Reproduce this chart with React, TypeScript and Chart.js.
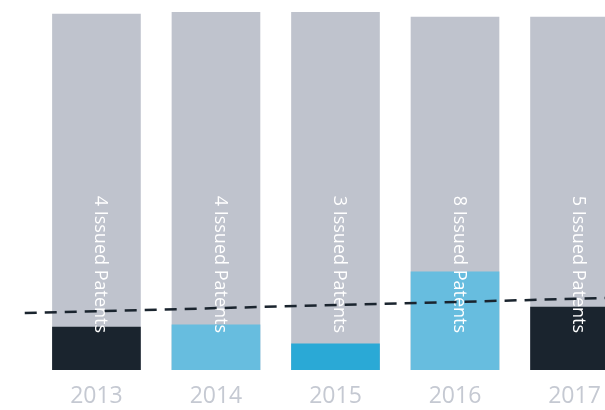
import React, { useEffect, useRef } from "react";
import { Chart, registerables } from "chart.js";

Chart.register(...registerables);

const years = [2013, 2014, 2015, 2016, 2017];
const patentCounts = [4, 4, 3, 8, 5];
const backgroundValues = [99.4, 100, 100, 98.6, 98.6];
const barValues = [12.0, 12.6, 7.3, 27.4, 17.6];
const barColors = ["#1a242e", "#67bddf", "#2aa9d6", "#67bddf", "#1a242e"];
const trendX = [2012.4, 2017.26];
const trendY = [15.9, 20.1];
const labelSuffix = " Issued Patents";

const GRAY = "#bfc3cd";
const DARK = "#1a242e";

export default function App() {
  const ref = useRef<HTMLCanvasElement | null>(null);

  useEffect(() => {
    const canvas = ref.current;
    if (!canvas) return;

    const labelPlugin = {
      id: "barLabels",
      afterDatasetDraw(chart: any, args: any) {
        if (args.index !== 1) return;
        const meta = chart.getDatasetMeta(0);
        const ctx = chart.ctx;
        const yScale = chart.scales.y;
        ctx.save();
        ctx.fillStyle = "#ffffff";
        ctx.font = "18px 'Open Sans'";
        ctx.textAlign = "center";
        ctx.textBaseline = "middle";
        meta.data.forEach((bar: any, i: number) => {
          ctx.save();
          ctx.translate(bar.x + 4, yScale.getPixelForValue(29.5));
          ctx.rotate(Math.PI / 2);
          ctx.fillText(patentCounts[i] + labelSuffix, 0, 0);
          ctx.restore();
        });
        ctx.restore();
      },
    };

    const chart = new Chart(canvas, {
      type: "bar",
      data: {
        datasets: [
          {
            type: "bar",
            data: years.map((y, i) => ({ x: y, y: backgroundValues[i] })),
            backgroundColor: GRAY,
            barThickness: 88,
            grouped: false,
            order: 2,
          } as any,
          {
            type: "bar",
            data: years.map((y, i) => ({ x: y, y: barValues[i] })),
            backgroundColor: barColors,
            barThickness: 88,
            grouped: false,
            order: 1,
          } as any,
          {
            type: "line",
            data: trendX.map((x, i) => ({ x, y: trendY[i] })),
            borderColor: DARK,
            borderWidth: 2.5,
            borderDash: [12, 8],
            pointRadius: 0,
            fill: false,
            order: 0,
          } as any,
        ],
      },
      options: {
        animation: false,
        responsive: false,
        events: [],
        layout: { padding: { top: 12, left: 0, right: 0, bottom: 0 } },
        plugins: { legend: { display: false }, tooltip: { enabled: false } },
        scales: {
          x: {
            type: "linear",
            min: 2012.193,
            max: 2017.255,
            offset: false,
            grid: { display: false, drawTicks: false },
            border: { display: false },
            ticks: {
              stepSize: 1,
              includeBounds: false,
              autoSkip: false,
              maxRotation: 0,
              padding: 13,
              color: "#c5c9d2",
              font: { family: "'Open Sans'", size: 23 },
              callback: (v: any) => (Number.isInteger(v) ? String(v) : ""),
            },
            afterFit: (scale: any) => {
              scale.height = 40;
              scale.paddingLeft = 0;
              scale.paddingRight = 0;
            },
          },
          y: {
            display: false,
            min: 0,
            max: 100,
          },
        },
      },
      plugins: [labelPlugin],
    } as any);

    return () => chart.destroy();
  }, []);

  return (
    <div style={{ position: "fixed", left: 0, top: 0, width: 605, height: 410, background: "#fff" }}>
      <canvas ref={ref} width={605} height={410} style={{ display: "block" }} />
    </div>
  );
}
